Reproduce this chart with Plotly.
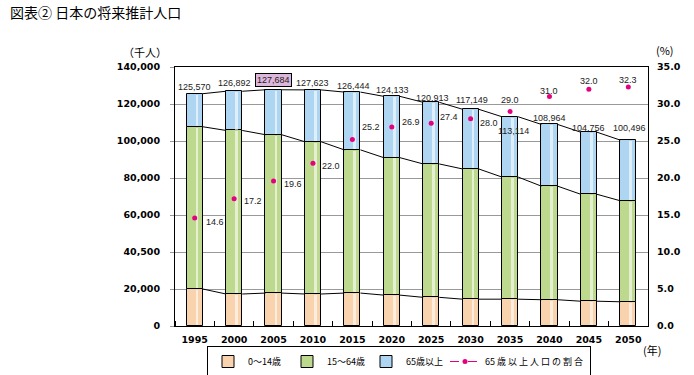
import plotly.graph_objects as go

# ---------------- data ----------------
years = ["1995", "2000", "2005", "2010", "2015", "2020", "2025", "2030", "2035", "2040", "2045", "2050"]
age_0_14 = [20000, 17300, 17800, 17300, 17800, 16700, 15500, 14500, 14500, 14200, 13400, 13100]
age_15_64 = [87700, 88400, 85600, 82300, 77400, 74300, 72100, 70400, 66000, 61400, 57800, 54600]
age_65_plus = [17870, 21192, 24284, 28023, 31244, 33133, 33313, 32249, 32614, 33364, 33558, 32796]
totals = [125570, 126892, 127684, 127623, 126444, 124133, 120913, 117149, 113114, 108964, 104758, 100496]
total_labels = ["125,570", "126,892", "127,684", "127,623", "126,444", "124,133", "120,913",
                "117,149", "113,114", "108,964", "104,756", "100,496"]
ratio_65 = [14.6, 17.2, 19.6, 22.0, 25.2, 26.9, 27.4, 28.0, 29.0, 31.0, 32.0, 32.3]
left_ticks = [0, 20000, 40000, 60000, 80000, 100000, 120000, 140000]
left_tick_text = ["0", "20,000", "40,500", "60,000", "80,000", "100,000", "120,000", "140,000"]
right_ticks = [0, 5, 10, 15, 20, 25, 30, 35]
series_names = ["0～14歳", "15～64歳", "65歳以上", "65 歳 以 上 人 口 の 割 合"]

# ---------------- style ----------------
C_YOUNG = "#F9D3AE"
C_WORK = "#BDD98E"
C_OLD = "#AED6F3"
C_DOT = "#E4007F"
BAR_W = 0.41
NUM_FONT = "DejaVu Sans"
LBL_FONT = "Liberation Sans, Arial"
JP_FONT = "Noto Sans CJK JP"

idx = list(range(len(years)))
base_work = age_0_14
base_old = [a + b for a, b in zip(age_0_14, age_15_64)]
tops_old = [a + b for a, b in zip(base_old, age_65_plus)]

fig = go.Figure()

segments = [
    (series_names[0], age_0_14, [0] * len(idx), C_YOUNG),
    (series_names[1], age_15_64, base_work, C_WORK),
    (series_names[2], age_65_plus, base_old, C_OLD),
]
for name, vals, base, col in segments:
    fig.add_trace(go.Bar(
        x=idx, y=vals, base=base, width=BAR_W, name=name,
        marker=dict(color=col, line=dict(color="black", width=1)),
        legendwidth=34, hoverinfo="skip",
    ))

# highlight stripes (gradient imitation)
for name, vals, base, col in segments:
    fig.add_trace(go.Bar(
        x=[i + 0.06 for i in idx], y=[v - 900 for v in vals], base=[b + 450 for b in base],
        width=0.07, marker=dict(color="rgba(255,255,255,0.6)", line=dict(width=0)),
        showlegend=False, hoverinfo="skip",
    ))

# series lines connecting segment tops between bars
for level in (base_work, base_old, tops_old):
    xs, ys = [], []
    for i in range(len(idx) - 1):
        xs += [idx[i] + BAR_W / 2, idx[i + 1] - BAR_W / 2, None]
        ys += [level[i], level[i + 1], None]
    fig.add_trace(go.Scatter(x=xs, y=ys, mode="lines", line=dict(color="black", width=1),
                             showlegend=False, hoverinfo="skip"))

# ratio markers
fig.add_trace(go.Scatter(
    x=idx, y=ratio_65, yaxis="y2", mode="markers",
    marker=dict(color=C_DOT, size=5), showlegend=False, hoverinfo="skip",
))
# legend entry for ratio
fig.add_trace(go.Scatter(
    x=[None], y=[None], yaxis="y2", mode="lines+markers", name=series_names[3],
    line=dict(color=C_DOT, width=1, dash="dash"), marker=dict(color=C_DOT, size=5),
    legendwidth=100,
))

# labels for totals
tot_dx = [0, 0, 0, 0, 1, 1, 1, 1, 3, 0, 0, 1]
tot_dy = [7, 8, 10, 7, 6, 6, 4, 9, -14, 6, 4, 12]
for i, (v, t) in enumerate(zip(totals, total_labels)):
    boxed = (i == 2)
    fig.add_annotation(
        x=idx[i], y=v, text=t, showarrow=False, xshift=tot_dx[i], yshift=tot_dy[i],
        font=dict(family=LBL_FONT, size=9, color="#222"),
        bgcolor="#DDB7DB" if boxed else None,
        bordercolor="black" if boxed else None, borderwidth=1 if boxed else 0, borderpad=1,
    )

# labels for ratios
r_dx = [20, 19, 19, 18, 19, 19, 18, 18, 0, 0, 0, 0]
r_dy = [-4, -2, -3, -3, 13, 5, 6, -4, 11, 6, 8, 7]
for i, r in enumerate(ratio_65):
    fig.add_annotation(
        x=idx[i], y=r, yref="y2", text=f"{r:.1f}", showarrow=False,
        xshift=r_dx[i], yshift=r_dy[i],
        font=dict(family=LBL_FONT, size=9, color="#222"),
    )

# unit labels
def px_x(p):
    return (p - 175) / 473


def px_y(p):
    return (326 - p) / 259


for txt, cx, cy, fs in [("（千人）", 145, 52, 11), ("(%)", 665, 50, 11), ("(年)", 652, 350, 11)]:
    fig.add_annotation(x=px_x(cx), y=px_y(cy), xref="paper", yref="paper", text=txt,
                       showarrow=False, xanchor="center", yanchor="middle",
                       font=dict(family=JP_FONT, size=fs, color="black"))

fig.update_layout(
    width=694, height=375, autosize=False,
    margin=dict(l=175, r=46, t=67, b=49, autoexpand=False),
    paper_bgcolor="white", plot_bgcolor="white",
    barmode="overlay", bargap=0,
    title=dict(text="図表② 日本の将来推計人口", x=10 / 694, y=1 - 13 / 375,
               xanchor="left", yanchor="middle",
               font=dict(family=JP_FONT, size=14, color="black")),
    xaxis=dict(
        range=[-0.5, len(idx) - 0.5], tickmode="array", tickvals=idx, ticktext=years,
        ticks="", showgrid=False, zeroline=False,
        showline=True, mirror=True, linecolor="black", linewidth=1,
        tickfont=dict(family=NUM_FONT, size=9.5, color="black", weight="bold"),
        ticklabelstandoff=5,
        minor=dict(tickmode="linear", tick0=0.5, dtick=1, ticks="inside",
                   ticklen=5, tickcolor="black", tickwidth=1, showgrid=False),
    ),
    yaxis=dict(
        range=[0, 140000], tickmode="array", tickvals=left_ticks, ticktext=left_tick_text,
        showgrid=True, gridcolor="#999999", gridwidth=1, zeroline=False,
        showline=True, mirror=True, linecolor="black", linewidth=1,
        ticks="outside", ticklen=4, tickcolor="#999999",
        tickfont=dict(family=NUM_FONT, size=9.5, color="black", weight="bold"),
        ticklabelstandoff=8,
    ),
    yaxis2=dict(
        range=[0, 35], overlaying="y", side="right", tickmode="array", tickvals=right_ticks,
        tickformat=".1f", showgrid=False, zeroline=False, showline=False, ticks="",
        tickfont=dict(family=NUM_FONT, size=9.5, color="black", weight="bold"),
        ticklabelstandoff=8,
    ),
    legend=dict(
        orientation="h", x=px_x(207), y=px_y(346), xanchor="left", yanchor="top",
        bgcolor="white", bordercolor="black", borderwidth=1,
        font=dict(family=JP_FONT, size=9, color="black"),
        itemwidth=30, entrywidthmode="pixels", tracegroupgap=0,
    ),
    showlegend=True,
)

fig.write_html("out.html", config={"displayModeBar": False},
               post_script="document.body.style.margin='0px';")
